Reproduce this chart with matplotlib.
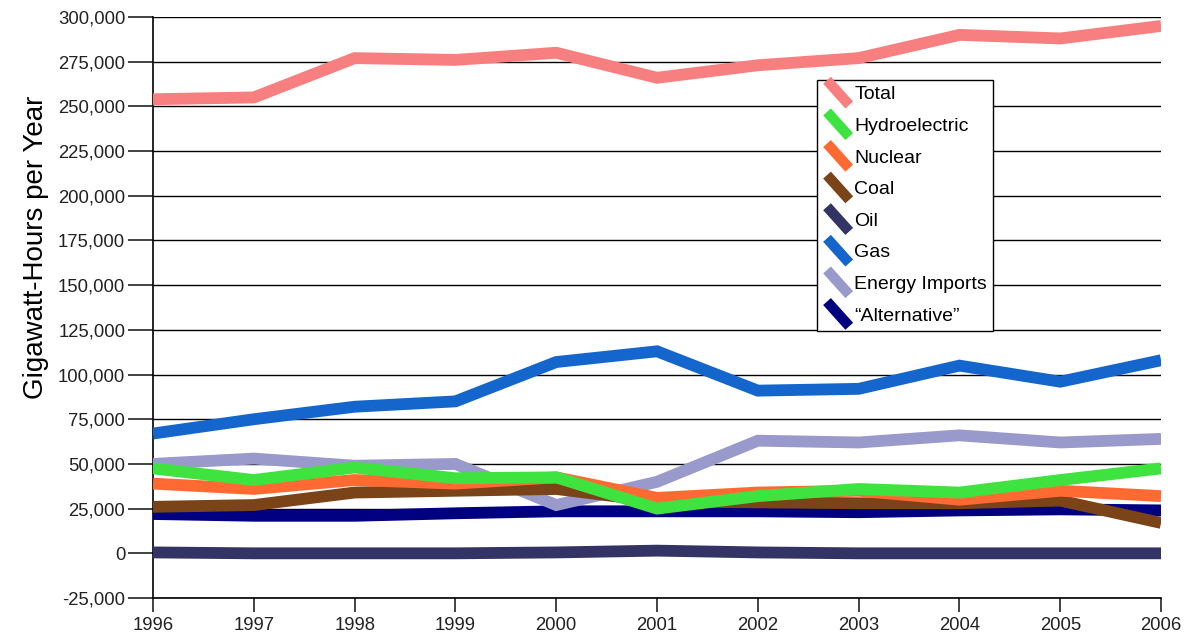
import matplotlib
matplotlib.use("Agg")
import matplotlib.pyplot as plt
from matplotlib.lines import Line2D
from matplotlib.legend_handler import HandlerLine2D
from matplotlib.ticker import FuncFormatter

plt.rcParams['font.family'] = ['Liberation Sans', 'DejaVu Sans']

years = [1996, 1997, 1998, 1999, 2000, 2001, 2002, 2003, 2004, 2005, 2006]

total = [254000, 255000, 277000, 276000, 280000, 266000, 273000, 277000, 290000, 288000, 295000]
hydro = [47500, 41000, 48000, 42000, 42500, 25000, 32000, 36000, 34000, 41000, 47500]
nuclear = [39000, 36000, 41000, 39000, 42500, 31000, 34000, 35000, 30000, 35000, 32000]
coal = [26000, 27000, 34000, 35000, 36000, 29000, 28500, 28000, 28000, 29500, 17000]
oil = [500, 0, 0, 0, 500, 1500, 500, 0, 0, 0, 0]
gas = [67000, 75000, 82000, 85000, 107000, 113000, 91000, 92000, 105000, 96000, 108000]
imports = [50000, 53000, 49000, 50000, 27000, 40000, 63000, 62000, 66000, 62000, 64000]
alternative = [22000, 21000, 21000, 22400, 23500, 23500, 23500, 23000, 24000, 24600, 24000]

# name, values, colour, zorder
series = [
    ("Total", total, "#F77F7F", 9),
    ("Hydroelectric", hydro, "#3FE33F", 8),
    ("Nuclear", nuclear, "#FF6A33", 7),
    ("Coal", coal, "#7A4418", 6),
    ("Oil", oil, "#333366", 3),
    ("Gas", gas, "#1466CC", 8),
    ("Energy Imports", imports, "#9999CC", 5),
    ("\u201cAlternative\u201d", alternative, "#000080", 4),
]


class DiagHandler(HandlerLine2D):
    # legend key drawn as a short diagonal stroke
    def create_artists(self, legend, orig_handle, xdescent, ydescent,
                       width, height, fontsize, trans):
        ln = Line2D([-xdescent + 3, -xdescent + width - 2],
                    [-ydescent + height + 4, -ydescent - 4],
                    color=orig_handle.get_color(), lw=orig_handle.get_linewidth(),
                    solid_capstyle='butt')
        ln.set_transform(trans)
        return [ln]


fig = plt.figure(figsize=(11.89, 6.44), dpi=100)
ax = fig.add_axes([0.1287, 0.0714, 0.8478, 0.9022])

handles = []
for name, vals, col, z in series:
    h, = ax.plot(years, vals, color=col, lw=8.5, zorder=z, label=name,
                 solid_joinstyle='miter', solid_capstyle='butt')
    handles.append(h)

ax.set_xlim(1996, 2006)
ax.set_ylim(-25000, 300000)
ax.set_yticks(range(-25000, 300001, 25000))
ax.set_xticks(years)
ax.yaxis.set_major_formatter(FuncFormatter(lambda v, p: f"{int(v):,}"))

ax.grid(axis='y', color='black', lw=1.0, zorder=1)
for s in ['top', 'right']:
    ax.spines[s].set_visible(False)
ax.spines['left'].set_linewidth(1.2)
ax.spines['bottom'].set_linewidth(1.2)
ax.tick_params(axis='both', direction='out', length=10, width=1.2, labelsize=13.3,
               colors='#222222', pad=4)
ax.tick_params(axis='y', length=18, pad=2)
ax.set_ylabel("Gigawatt-Hours per Year", fontsize=20)
ax.yaxis.set_label_coords(-0.103, 0.604)

leg_handles = [Line2D([], [], color=h.get_color(), lw=7.5) for h in handles]
leg = ax.legend(leg_handles, [h.get_label() for h in handles],
                handler_map={Line2D: DiagHandler()},
                loc='upper left', bbox_to_anchor=(0.6587, 0.8916),
                fontsize=14, frameon=True, fancybox=False, framealpha=1,
                edgecolor='black', handlelength=1.5, handletextpad=0.12,
                labelspacing=0.72, borderpad=0.3, borderaxespad=0)
leg.get_frame().set_linewidth(1.0)
leg.set_zorder(20)

fig.savefig("out.png", dpi=100)
